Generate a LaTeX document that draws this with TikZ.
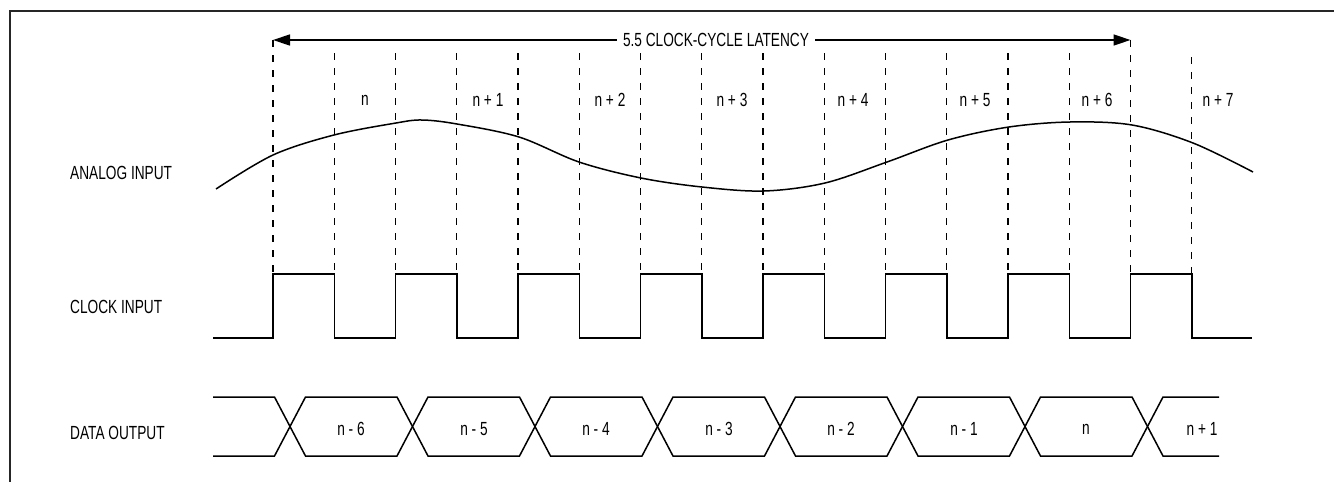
\documentclass[tikz,border=0pt]{standalone}
\usepackage{fontspec}
\setmainfont{Liberation Sans}[FakeStretch=0.72]
\usetikzlibrary{arrows.meta}
\begin{document}
\begin{tikzpicture}[x=1pt,y=-1pt,
  wave/.style={line width=1.5pt, line join=miter},
  guide/.style={line width=1.4pt, dash pattern=on 7pt off 8pt},
  lbl/.style={font=\fontsize{19}{22}\selectfont, inner sep=0pt},
  rowlbl/.style={lbl, anchor=west},
  frameline/.style={line width=2.6pt, draw=black!85}]
\useasboundingbox (0,0) rectangle (1334,482);
% frame
\coordinate (fbl) at (10,482);
\coordinate (ftl) at (10,11);
\coordinate (ftr) at (1334,11);
\draw[frameline] (fbl) -- (ftl) -- (ftr);
% guides
\foreach \k in {1,...,13}{
  \draw[guide] ({273+\k*61.25},53) -- ({273+\k*61.25},274);
}
\draw[guide] (273,40) -- (273,274);
\draw[guide] (1130.5,40) -- (1130.5,274);
\draw[guide] (1191.75,57) -- (1191.75,274);
% latency arrow
\coordinate (la) at (273,40);
\coordinate (lb) at (1130.5,40);
\draw[line width=1.4pt, {Triangle[length=17pt,width=11pt]}-{Triangle[length=17pt,width=11pt]}] (la) -- (lb);
\node[lbl, fill=white, inner xsep=6pt, inner ysep=2pt] (lat) at (716,40) {5.5 CLOCK-CYCLE LATENCY};
% row labels
\node[rowlbl] (ain) at (70,173) {ANALOG INPUT};
\node[rowlbl] (cin) at (70,307) {CLOCK INPUT};
\node[rowlbl] (dout) at (70,433) {DATA OUTPUT};
% sample labels
\node[lbl] (s0) at (365,100) {n};
\node[lbl] (s1) at (488,100) {n + 1};
\node[lbl] (s2) at (610,100) {n + 2};
\node[lbl] (s3) at (732,100) {n + 3};
\node[lbl] (s4) at (853,100) {n + 4};
\node[lbl] (s5) at (975,100) {n + 5};
\node[lbl] (s6) at (1097,100) {n + 6};
\node[lbl] (s7) at (1218,100) {n + 7};
% analog curve
\draw[wave] plot[smooth, tension=0.55] coordinates {(216,189) (273,155) (334,135) (396,123) (422,120) (457,124) (519,137) (579,162) (641,178) (702,187) (764,191) (825,183) (887,162) (948,140) (1009,127) (1070,122) (1132,125) (1193,143) (1253,172)};
% clock
\draw[wave] (213,338) foreach \k in {0,...,7} { -- ({273+2*\k*61.25},338) -- ({273+2*\k*61.25},274) -- ({273+(2*\k+1)*61.25},274) -- ({273+(2*\k+1)*61.25},338) } -- (1252,338);
% data output
\draw[wave] (213,397) -- (274.5,397) -- (305.5,456) -- (397,456) -- (428,397) -- (519.5,397) -- (550.5,456) -- (642,456) -- (673,397) -- (764.5,397) -- (795.5,456) -- (887,456) -- (918,397) -- (1009.5,397) -- (1040.5,456) -- (1132,456) -- (1163,397) -- (1219,397);
\draw[wave] (213,456) -- (274.5,456) -- (305.5,397) -- (397,397) -- (428,456) -- (519.5,456) -- (550.5,397) -- (642,397) -- (673,456) -- (764.5,456) -- (795.5,397) -- (887,397) -- (918,456) -- (1009.5,456) -- (1040.5,397) -- (1132,397) -- (1163,456) -- (1219,456);
\node[lbl] (d0) at (351,429) {n - 6};
\node[lbl] (d1) at (474,429) {n - 5};
\node[lbl] (d2) at (596,429) {n - 4};
\node[lbl] (d3) at (719,429) {n - 3};
\node[lbl] (d4) at (841,429) {n - 2};
\node[lbl] (d5) at (964,429) {n - 1};
\node[lbl] (d6) at (1086,429) {n};
\node[lbl] (d7) at (1202,429) {n + 1};
\end{tikzpicture}
\end{document}
